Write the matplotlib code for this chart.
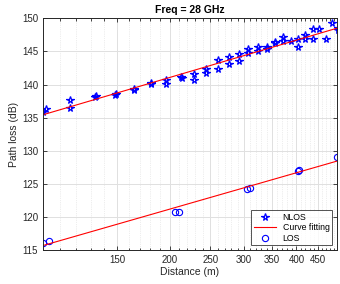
import numpy as np
import matplotlib.pyplot as plt
from matplotlib.ticker import FixedLocator, NullFormatter

plt.rcParams['font.family'] = ['Liberation Sans', 'DejaVu Sans']

# NLOS measurements (distance m, path loss dB)
nlos_d = [100, 101.6, 116, 116, 132.8, 133.5, 148.7, 149.5, 164.3, 165,
          180.3, 181, 196.4, 196.4, 213.2, 214, 228.4, 228.4, 243.8, 243.8,
          260.8, 260.8, 276, 276, 292.5, 292.5, 307.7, 307.7, 324.4, 324.4,
          340, 340, 355, 355, 372.5, 372.5, 389, 404, 404, 420,
          420, 437, 437, 453, 470, 485, 501, 501]
nlos_pl = [135.9, 136.3, 137.6, 136.5, 138.1, 138.2, 138.5, 138.6, 139.2, 139.3,
           140.3, 140.1, 140.7, 140.1, 141.2, 141.0, 141.6, 140.7, 142.4, 141.7,
           143.7, 142.3, 144.2, 143.1, 144.6, 143.5, 145.3, 144.7, 145.6, 145.0,
           145.7, 145.3, 146.4, 146.2, 147.2, 146.5, 146.5, 146.9, 145.6, 147.5,
           146.9, 148.3, 146.9, 148.3, 146.8, 149.2, 148.5, 148.2]

# LOS measurements
los_d = [100, 103.3, 205.5, 210, 305, 311, 402.7, 406, 499]
los_pl = [116.2, 116.45, 120.8, 120.8, 124.3, 124.4, 127.0, 127.1, 129.1]

xticks = [150, 200, 250, 300, 350, 400, 450]
yticks = [115, 120, 125, 130, 135, 140, 145, 150]

fig = plt.figure(figsize=(3.4, 2.84), dpi=100)
ax = fig.add_axes([0.126, 0.118, 0.866, 0.818])

xx = np.linspace(100, 500, 200)
p_n = np.polyfit(np.log10(nlos_d), nlos_pl, 1)
p_l = np.polyfit(np.log10(los_d), los_pl, 1)

ax.plot(nlos_d, nlos_pl, '*', color='blue', mfc='none', ms=5.5, mew=0.9, label='NLOS')
ax.plot(xx, np.polyval(p_n, np.log10(xx)), 'r-', lw=0.8, label='Curve fitting')
ax.plot(los_d, los_pl, 'o', color='blue', mfc='none', ms=4.5, mew=0.8, label='LOS')
ax.plot(xx, np.polyval(p_l, np.log10(xx)), 'r-', lw=0.8)

ax.set_xscale('log')
ax.set_xlim(100, 500)
ax.set_ylim(115, 150)
ax.xaxis.set_major_locator(FixedLocator(xticks))
ax.xaxis.set_minor_locator(FixedLocator(np.arange(110, 500, 10)))
ax.xaxis.set_minor_formatter(NullFormatter())
ax.set_xticklabels([str(t) for t in xticks])
ax.set_yticks(yticks)

ax.grid(True, which='major', color='#e0e0e0', lw=0.7, ls='-')
ax.grid(True, which='minor', axis='x', color='#dcdcdc', lw=0.5, ls=':')
ax.set_axisbelow(True)

for s in ax.spines.values():
    s.set_color('#262626')
    s.set_linewidth(0.7)
ax.tick_params(which='both', direction='in', top=True, right=True,
               colors='#262626', labelsize=7, width=0.6)
ax.tick_params(which='major', length=3)
ax.tick_params(which='minor', length=1.8)

ax.set_xlabel('Distance (m)', fontsize=7.5, color='#262626', labelpad=1)
ax.set_ylabel('Path loss (dB)', fontsize=7.5, color='#262626', labelpad=2)
ax.set_title('Freq = 28 GHz', fontsize=7.5, fontweight='bold', pad=4)

leg = ax.legend(loc='lower right', fontsize=6.3, frameon=True, fancybox=False,
                edgecolor='#262626', borderpad=0.3, labelspacing=0.15,
                handlelength=2.5, borderaxespad=0.6)
leg.get_frame().set_linewidth(0.7)

fig.savefig('out.png', dpi=100)
